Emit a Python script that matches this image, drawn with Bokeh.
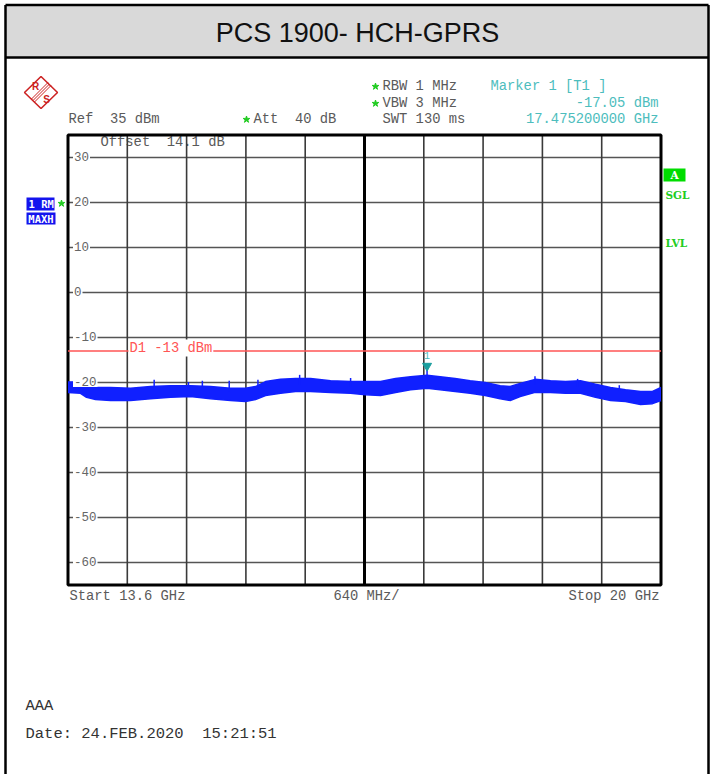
import numpy as np
from bokeh.plotting import figure
from bokeh.models import Range1d
from bokeh.core.properties import value
from bokeh.embed import file_html
from bokeh.resources import INLINE

# ---------------- data ----------------
f_start_ghz = 13.6
f_stop_ghz = 20.0
ref_level_dbm = 35.0
bottom_level_dbm = -65.0

freq_grid_ghz = [14.24, 14.88, 15.52, 16.16, 16.80, 17.44, 18.08, 18.72, 19.36]
level_grid_dbm = [30, 20, 10, 0, -10, -20, -30, -40, -50, -60]
level_tick_labels = ["30", "20", "10", "0", "-10", "-20", "-30", "-40", "-50", "-60"]

trace_freq_ghz = [13.60, 13.735, 13.80, 13.897, 14.059, 14.275, 14.490, 14.706, 14.922, 15.138,
                  15.354, 15.516, 15.624, 15.732, 15.894, 16.056, 16.218, 16.434, 16.650, 16.811,
                  16.973, 17.135, 17.297, 17.475, 17.616, 17.778, 17.940, 18.102, 18.264, 18.372,
                  18.480, 18.642, 18.808, 18.970, 19.131, 19.293, 19.455, 19.617, 19.779, 19.908,
                  20.00]
trace_upper_dbm = [-19.9, -19.9, -20.4, -21.1, -21.1, -21.3, -20.9, -20.7, -20.7, -20.9,
                   -21.3, -21.3, -20.9, -19.8, -19.3, -19.1, -19.1, -19.6, -19.8, -19.8,
                   -19.8, -19.1, -18.7, -18.4, -18.7, -19.1, -19.6, -20.0, -20.7, -20.9,
                   -20.2, -19.3, -19.6, -19.8, -19.6, -20.4, -21.1, -21.6, -22.0, -22.0,
                   -21.1]
trace_lower_dbm = [-22.2, -22.4, -23.3, -23.8, -24.0, -24.0, -23.6, -23.3, -23.1, -23.6,
                   -24.0, -24.2, -23.8, -22.9, -22.4, -22.0, -22.0, -22.2, -22.4, -22.7,
                   -22.9, -22.2, -21.6, -21.3, -21.6, -22.0, -22.4, -22.9, -23.6, -24.0,
                   -23.1, -22.2, -22.2, -22.4, -22.4, -23.3, -24.0, -24.2, -24.9, -24.7,
                   -24.0]
spike_freq_ghz = [13.72, 14.53, 14.90, 15.05, 15.34, 15.65, 16.10, 16.65, 17.4752, 18.64, 19.10, 19.55]
spike_base_dbm = [-21.0, -21.5, -21.5, -21.5, -22.0, -21.5, -20.5, -21.0, -20.0, -20.5, -21.0, -22.0]
spike_top_dbm = [-19.0, -19.4, -19.9, -19.6, -19.6, -19.4, -18.3, -19.0, -17.05, -18.6, -19.2, -20.6]

marker_freq_ghz = 17.4752
marker_level_dbm = -17.05
display_line_dbm = -13.0

# ---------------- layout geometry (page pixels) ----------------
W, H = 713, 774
PX0, PY0 = 0, 0
GRID_L, GRID_R, GRID_T, GRID_B = 67.5, 660.5, 134.5, 584.5

px_per_ghz = (GRID_R - GRID_L) / (f_stop_ghz - f_start_ghz)
px_per_db = (GRID_B - GRID_T) / (ref_level_dbm - bottom_level_dbm)

x_range = Range1d(f_start_ghz - (GRID_L - PX0) / px_per_ghz,
                  f_stop_ghz + (PX0 + W - GRID_R) / px_per_ghz)
y_range = Range1d(bottom_level_dbm - (PY0 + H - GRID_B) / px_per_db,
                  ref_level_dbm + (GRID_T - PY0) / px_per_db)

p = figure(width=W, height=H, x_range=x_range, y_range=y_range,
           output_backend="svg", toolbar_location=None, min_border=0,
           x_axis_location=None, y_axis_location=None,
           outline_line_color=None, background_fill_color="white",
           border_fill_color="white")
p.extra_x_ranges = {"px": Range1d(PX0, PX0 + W)}
p.extra_y_ranges = {"py": Range1d(PY0 + H, PY0)}
p.grid.visible = False

PXR = dict(x_range_name="px", y_range_name="py")
MONO = "Liberation Mono"
GRAYTXT = "#5a5a5a"
CYAN = "#4dbdbd"
GREEN = "#22cc22"
NB = "\u00a0"


def txt(x, y, s, size, color, font=MONO, align="left", baseline="middle",
        style="normal", bg=None, pad=0, px=True, xoff=0, yoff=0):
    kw = dict(PXR) if px else {}
    if bg is not None:
        kw.update(background_fill_color=bg, padding=pad)
    p.text(x=[x], y=[y], text=[s], text_font=value(font),
           text_font_size=f"{size}px", text_color=color, text_align=align,
           text_baseline=baseline, text_font_style=style,
           x_offset=xoff, y_offset=yoff, **kw)


# ---------------- document table / header ----------------
p.quad(left=5, right=708, top=5, bottom=57, fill_color="#d9d9d9", line_color=None, **PXR)
p.segment(x0=[5, 5, 708, 5], y0=[4.5, 4.5, 4.5, 57], x1=[708, 5, 708, 708], y1=[4.5, 774, 774, 57],
          line_color="black", line_width=2.5, **PXR)
txt(357, 32, "PCS 1900- HCH-GPRS", 27, "#111111", font="Liberation Sans", align="center")

# ---------------- R&S logo ----------------
p.patch(x=[40.5, 57, 40.5, 24], y=[76, 92, 108, 92], fill_color=None,
        line_color="#cc2222", line_width=1.6, **PXR)
p.multi_line(xs=[[31, 47.5], [32.5, 49], [34, 50.5]], ys=[[98.5, 82], [100, 83.5], [101.5, 85]],
             line_color="#cc2222", line_width=1.0, **PXR)
txt(35, 86, "R", 10, "#cc2222", font="Liberation Sans", align="center", style="bold")
txt(46, 98.5, "S", 10, "#cc2222", font="Liberation Sans", align="center", style="bold")

# ---------------- instrument settings text ----------------
txt(68, 119, f"Ref{NB}{NB}35 dBm", 13.8, GRAYTXT)
txt(253, 119, f"Att{NB}{NB}40 dB", 13.8, GRAYTXT)
txt(382, 86, "RBW 1 MHz", 13.8, GRAYTXT)
txt(382, 103, "VBW 3 MHz", 13.8, GRAYTXT)
txt(382, 119, "SWT 130 ms", 13.8, GRAYTXT)
txt(490, 86, "Marker 1 [T1 ]", 13.8, CYAN)
txt(658, 103, "-17.05 dBm", 13.8, CYAN, align="right")
txt(658, 119, "17.475200000 GHz", 13.8, CYAN, align="right")
p.scatter(x=[246, 375, 375, 61], y=[119, 86, 103, 203], marker="star", size=7,
          fill_color=GREEN, line_color=GREEN, **PXR)

# left trace indicators
p.quad(left=[26, 26], right=[54, 55], top=[197, 212], bottom=[210, 224],
       fill_color="#1414ee", line_color=None, **PXR)
txt(28, 203.5, "1 RM", 10.5, "white", font="DejaVu Sans Mono", style="bold")
txt(40.5, 218, "MAXH", 10.5, "white", font="DejaVu Sans Mono", style="bold", align="center")

# right side status
p.quad(left=663, right=685, top=168, bottom=181, fill_color="#00dd00", line_color=None, **PXR)
txt(674, 174.5, "A", 10.5, "white", font="DejaVu Serif", style="bold", align="center")
txt(665, 194, "SGL", 10.5, GREEN, font="DejaVu Serif", style="bold")
txt(665, 242, "LVL", 10.5, GREEN, font="DejaVu Serif", style="bold")

txt(100, 141.5, f"Offset{NB}{NB}14.1 dB", 13.8, GRAYTXT)

# ---------------- grid ----------------
n_lv = len(level_grid_dbm)
p.segment(x0=[f_start_ghz] * n_lv, x1=[f_stop_ghz] * n_lv, y0=level_grid_dbm, y1=level_grid_dbm,
          line_color="#555555", line_width=1.6)

center_ghz = (f_start_ghz + f_stop_ghz) / 2
side_grid = [f for f in freq_grid_ghz if abs(f - center_ghz) > 1e-6]
p.segment(x0=side_grid, x1=side_grid, y0=[bottom_level_dbm] * len(side_grid),
          y1=[ref_level_dbm] * len(side_grid), line_color="#3a3a3a", line_width=1.6)
p.segment(x0=[center_ghz], x1=[center_ghz], y0=[bottom_level_dbm], y1=[ref_level_dbm],
          line_color="black", line_width=3)
p.quad(left=f_start_ghz, right=f_stop_ghz, top=ref_level_dbm, bottom=bottom_level_dbm,
       fill_color=None, line_color="black", line_width=3)

# display line D1
p.segment(x0=[f_start_ghz], x1=[f_stop_ghz], y0=[display_line_dbm], y1=[display_line_dbm],
          line_color="#ff5555", line_width=1.6)
p.text(x=[f_start_ghz], y=[display_line_dbm], text=["D1 -13 dBm"], text_font=value(MONO),
       text_font_size="13.8px", text_color="#ff5555", text_align="left", text_baseline="middle",
       x_offset=60.5, y_offset=-3, background_fill_color="white", padding=1)

# ---------------- trace ----------------
BLUE = "#1020ff"
p.varea(x=trace_freq_ghz, y1=trace_lower_dbm, y2=trace_upper_dbm, fill_color=BLUE)
p.line(trace_freq_ghz, trace_upper_dbm, line_color=BLUE, line_width=1.5)
p.line(trace_freq_ghz, trace_lower_dbm, line_color=BLUE, line_width=1.5)
p.segment(x0=spike_freq_ghz, x1=spike_freq_ghz, y0=spike_base_dbm, y1=spike_top_dbm,
          line_color=BLUE, line_width=1.5)

# level tick labels (drawn over the grid line with a white background)
p.text(x=[f_start_ghz] * n_lv, y=level_grid_dbm, text=level_tick_labels,
       text_font=value(MONO), text_font_size="12.5px", text_color="#666666",
       text_align="left", text_baseline="middle", x_offset=5, y_offset=-1,
       background_fill_color="white", padding=1)

# marker
tri_off_db = 3.3 / px_per_db
p.scatter(x=[marker_freq_ghz], y=[marker_level_dbm + tri_off_db], marker="inverted_triangle",
          size=9, fill_color="#1a9e9e", line_color="#1a9e9e")
p.text(x=[marker_freq_ghz], y=[marker_level_dbm], text=["1"], text_font=value(MONO),
       text_font_size="10px", text_color=CYAN, text_align="center", text_baseline="middle",
       y_offset=-14)

# ---------------- bottom annotation ----------------
txt(69, 596, "Start 13.6 GHz", 13.8, GRAYTXT)
txt(366, 596, "640 MHz/", 13.8, GRAYTXT, align="center")
txt(659, 596, "Stop 20 GHz", 13.8, GRAYTXT, align="right")

txt(25, 705, "AAA", 15.5, "#333333")
txt(25, 733, f"Date: 24.FEB.2020{NB}{NB}15:21:51", 15.5, "#333333")

open("out.html", "w").write(file_html(p, INLINE))
